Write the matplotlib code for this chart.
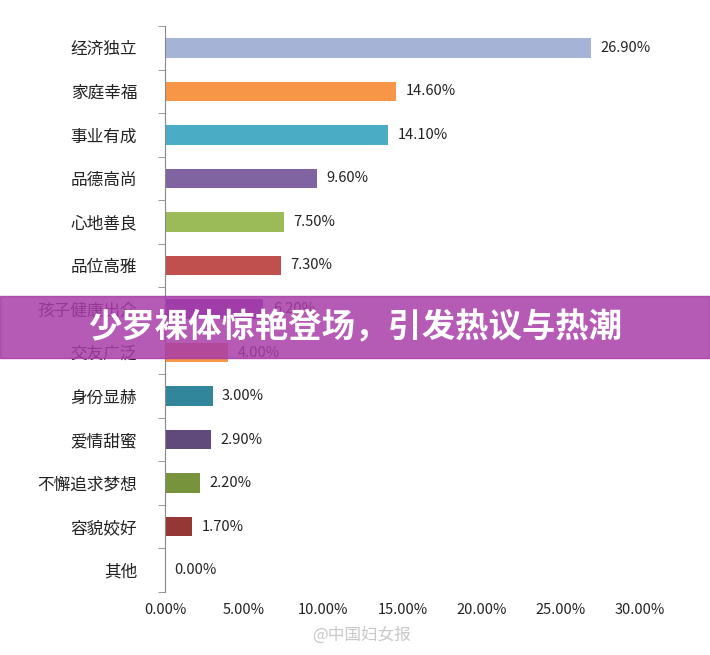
import matplotlib.pyplot as plt
from matplotlib.patches import Rectangle

plt.rcParams['font.family'] = ['Noto Sans CJK SC', 'Noto Sans CJK JP', 'DejaVu Sans']

categories = ['经济独立', '家庭幸福', '事业有成', '品德高尚', '心地善良', '品位高雅',
              '孩子健康出众', '交友广泛', '身份显赫', '爱情甜蜜', '不懈追求梦想', '容貌姣好', '其他']
values = [26.9, 14.6, 14.1, 9.6, 7.5, 7.3, 6.2, 4.0, 3.0, 2.9, 2.2, 1.7, 0.0]
colors = ['#A5B3D6', '#F79646', '#4BACC6', '#8064A2', '#9BBB59', '#C0504D',
          '#7F3FBF', '#F79646', '#31869B', '#604A7B', '#77933C', '#953735', '#4F81BD']
xticks = [0, 5, 10, 15, 20, 25, 30]

fig = plt.figure(figsize=(7.1, 6.55), dpi=100)
ax = fig.add_axes([165 / 710, 1 - 592 / 655, 475 / 710, 566 / 655])
y = list(range(len(categories)))
ax.barh(y, values, height=0.45, color=colors)
ax.set_ylim(len(categories) - 0.5, -0.5)
ax.set_xlim(0, 30)
ax.set_yticks(y)
ax.set_yticklabels(categories, fontsize=12, color='#222222')
ax.set_xticks(xticks)
ax.set_xticklabels([f'{v:.2f}%' for v in xticks], fontsize=10.5, color='#222222')
for s in ['top', 'right', 'bottom']:
    ax.spines[s].set_visible(False)
ax.spines['left'].set_color('#888888')
ax.tick_params(axis='x', length=0, pad=8)
ax.set_yticks([i + 0.5 for i in range(-1, len(categories))], minor=True)
ax.tick_params(axis='y', which='major', length=0, pad=20)
ax.tick_params(axis='y', which='minor', length=5, color='#888888')
for yi, v in zip(y, values):
    ax.text(v + 0.6, yi, f'{v:.2f}%', va='center', fontsize=10.5, color='#222222')

# overlay banner
fig.patches.append(Rectangle((0, 1 - 358 / 655), 1, 62 / 655, transform=fig.transFigure,
                             color='#A83DA8', alpha=0.85, zorder=5))
fig.text(0.5, 1 - 328 / 655, '少罗裸体惊艳登场，引发热议与热潮', ha='center', va='center',
         fontsize=24, fontweight='bold', color='white', zorder=6)
fig.text(0.44, 1 - 640 / 655, '@中国妇女报', fontsize=12, color='#BBBBBB', alpha=0.8)

fig.savefig('out.png', dpi=100)
